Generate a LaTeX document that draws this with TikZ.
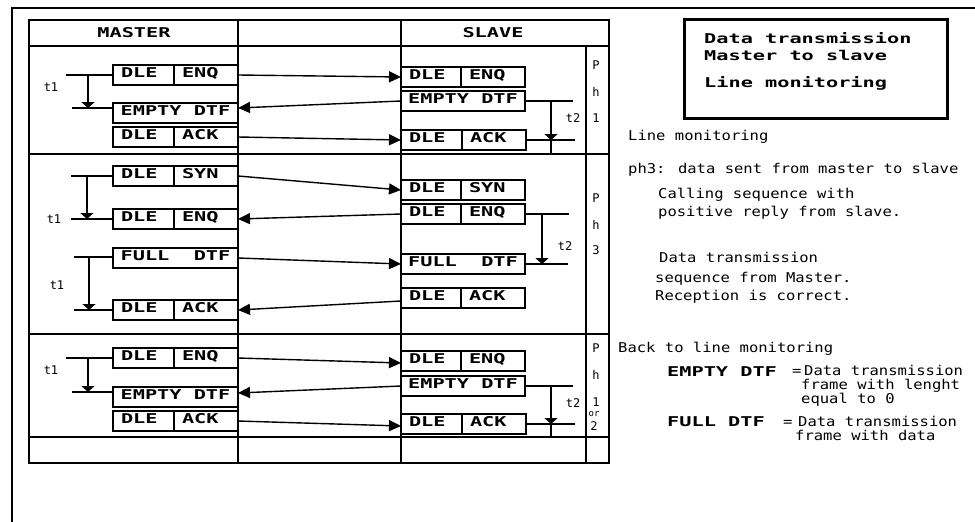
\documentclass[tikz,border=0pt]{standalone}
\usepackage{fontspec}
\usepackage{tikz}
\usetikzlibrary{arrows.meta,positioning}

\newfontfamily\cellfnt[FakeStretch=1.5]{DejaVu Sans Mono}
\newfontfamily\notefnt[FakeStretch=1.15]{DejaVu Sans Mono}
\newfontfamily\tickfnt{DejaVu Sans Mono}
\newcommand{\cellfont}{\cellfnt\bfseries\fontsize{13.5pt}{14pt}\selectfont}
\newcommand{\notefont}{\notefnt\fontsize{13.5pt}{14pt}\selectfont}
\newcommand{\tickfont}{\tickfnt\fontsize{12pt}{12pt}\selectfont}
\newcommand{\orfont}{\tickfnt\fontsize{9pt}{9pt}\selectfont}

\tikzset{
  grid line/.style={line width=1.6pt},
  cell/.style={draw, line width=1.4pt, outer sep=0pt, font=\cellfont,
    inner xsep=8pt, inner ysep=2pt, text height=10.5pt, text depth=5.5pt,
    minimum height=20pt, anchor=north west},
  lcell/.style={cell, text width=45pt, align=left},
  rcell/.style={cell, text width=48pt, align=left},
  wcell/.style={cell, inner xsep=0pt, minimum width=125pt},
  msg/.style={line width=1.4pt, -{Triangle[length=12pt,width=11pt]}},
  tmr/.style={line width=1.4pt, -{Triangle[length=6pt,width=13pt]}},
  tline/.style={line width=1.4pt},
  note/.style={font=\notefont, anchor=west, inner sep=0pt, text height=10pt, text depth=0pt},
  bnote/.style={note, font=\cellfont},
  tick/.style={font=\tickfont, inner sep=0pt},
}

\begin{document}
\begin{tikzpicture}[x=1pt,y=-1pt]
  \useasboundingbox (0,0) rectangle (975,522);
  %frame and table
  \draw[line width=1.5pt] (12,540) -- (12,8) -- (990,8);
  \draw[grid line] (29,20) rectangle (609,463);
  \draw[grid line] (29,46) -- (609,46);
  \draw[grid line] (29,154) -- (609,154);
  \draw[grid line] (29,334) -- (609,334);
  \draw[grid line] (29,437) -- (609,437);
  \draw[grid line] (238,20) -- (238,463);
  \draw[grid line] (401,20) -- (401,463);
  \draw[grid line] (586,46) -- (586,463);
  \node[font=\cellfont] (mhead) at (134,33) {MASTER};
  \node[font=\cellfont] (shead) at (493,33) {SLAVE};

  %phase 1
  \node[lcell] (m1aL) at (113,65) {DLE};
  \node[rcell, right=0pt of m1aL] (m1aR) {ENQ};
  \node[wcell] (m1b) at (113,103) {EMPTY DTF};
  \node[lcell] (m1cL) at (113,127) {DLE};
  \node[rcell, right=0pt of m1cL] (m1cR) {ACK};
  \node[lcell, text width=44pt] (s1aL) at (401,67) {DLE};
  \node[rcell, right=0pt of s1aL] (s1aR) {ENQ};
  \node[wcell, minimum width=124pt] (s1b) at (401,91) {EMPTY DTF};
  \node[lcell] (s1cL) at (401,130) {DLE};
  \node[rcell, right=0pt of s1cL] (s1cR) {ACK};
  \draw[msg] (m1aR.east) -- (s1aL.west);
  \draw[msg] (s1b.west) -- ([yshift=5pt]m1b.east);
  \draw[msg] (m1cR.east) -- (s1cL.west);
  \coordinate (a1) at (66,75);
  \coordinate (b1) at (72,108);
  \coordinate (v1) at (88,75);
  \coordinate (w1) at (88,108);
  \draw[tline] (a1) -- (m1aL.west);
  \draw[tline] (b1) -- ([yshift=5pt]m1b.west);
  \draw[tmr] (v1) -- (w1);
  \node[tick] (t1a) at (51,87) {t1};
  \coordinate (c1) at (573,101);
  \coordinate (d1) at (575,140);
  \coordinate (x1) at (551,101);
  \coordinate (y1) at (551,140);
  \coordinate (z1) at (551,154);
  \draw[tline] (s1b.east) -- (c1);
  \draw[tline] (s1cR.east) -- (d1);
  \draw[tmr] (x1) -- (y1);
  \draw[tline] (y1) -- (z1);
  \node[tick] (t2a) at (573,118) {t2};
  \node[tick] (p1a) at (596,65) {P};
  \node[tick] (p1b) at (596,92) {h};
  \node[tick] (p1c) at (596,118) {1};

  %phase 3
  \node[lcell] (m2aL) at (113,166) {DLE};
  \node[rcell, right=0pt of m2aL] (m2aR) {SYN};
  \node[lcell] (m2bL) at (113,209) {DLE};
  \node[rcell, right=0pt of m2bL] (m2bR) {ENQ};
  \node[wcell] (m2c) at (113,248) {FULL\ \ DTF};
  \node[lcell] (m2dL) at (113,300) {DLE};
  \node[rcell, right=0pt of m2dL] (m2dR) {ACK};
  \node[lcell, text width=44pt] (s2aL) at (401,180) {DLE};
  \node[rcell, right=0pt of s2aL] (s2aR) {SYN};
  \node[lcell, text width=44pt] (s2bL) at (401,204) {DLE};
  \node[rcell, right=0pt of s2bL] (s2bR) {ENQ};
  \node[wcell, minimum width=124pt] (s2c) at (401,254) {FULL\ \ DTF};
  \node[lcell, text width=44pt] (s2dL) at (401,288) {DLE};
  \node[rcell, right=0pt of s2dL] (s2dR) {ACK};
  \draw[msg] (m2aR.east) -- (s2aL.west);
  \draw[msg] (s2bL.west) -- (m2bR.east);
  \draw[msg] (m2c.east) -- (s2c.west);
  \draw[msg] ([yshift=-3pt]s2dL.west) -- (m2dR.east);
  \coordinate (a2) at (71,176);
  \coordinate (b2) at (71,219);
  \coordinate (v2) at (87,176);
  \coordinate (w2) at (87,219);
  \draw[tline] (a2) -- (m2aL.west);
  \draw[tline] (b2) -- (m2bL.west);
  \draw[tmr] (v2) -- (w2);
  \node[tick] (t1b) at (54,219) {t1};
  \coordinate (a3) at (74,257);
  \coordinate (b3) at (74,310);
  \coordinate (v3) at (89,257);
  \coordinate (w3) at (89,310);
  \draw[tline] (a3) -- ([yshift=1pt]m2c.west);
  \draw[tline] (b3) -- (m2dL.west);
  \draw[tmr] (v3) -- (w3);
  \node[tick] (t1c) at (57,285) {t1};
  \coordinate (c2) at (569,214);
  \coordinate (d2) at (568,264);
  \coordinate (x2) at (542,214);
  \coordinate (y2) at (542,264);
  \draw[tline] (s2bR.east) -- (c2);
  \draw[tline] (s2c.east) -- (d2);
  \draw[tmr] (x2) -- (y2);
  \node[tick] (t2b) at (565,246) {t2};
  \node[tick] (p2a) at (596,198) {P};
  \node[tick] (p2b) at (596,225) {h};
  \node[tick] (p2c) at (596,250) {3};

  %back to phase 1
  \node[lcell] (m3aL) at (113,348) {DLE};
  \node[rcell, right=0pt of m3aL] (m3aR) {ENQ};
  \node[wcell] (m3b) at (113,387) {EMPTY DTF};
  \node[lcell] (m3cL) at (113,411) {DLE};
  \node[rcell, right=0pt of m3cL] (m3cR) {ACK};
  \node[lcell, text width=44pt] (s3aL) at (401,351) {DLE};
  \node[rcell, right=0pt of s3aL] (s3aR) {ENQ};
  \node[wcell, minimum width=124pt] (s3b) at (401,376) {EMPTY DTF};
  \node[lcell] (s3cL) at (401,414) {DLE};
  \node[rcell, right=0pt of s3cL] (s3cR) {ACK};
  \draw[msg] (m3aR.east) -- ([yshift=-2pt]s3aL.west);
  \draw[msg] (s3b.west) -- ([yshift=4pt]m3b.east);
  \draw[msg] (m3cR.east) -- ([yshift=-2pt]s3cL.west);
  \coordinate (a4) at (66,358);
  \coordinate (b4) at (72,392);
  \coordinate (v4) at (88,358);
  \coordinate (w4) at (88,392);
  \draw[tline] (a4) -- (m3aL.west);
  \draw[tline] (b4) -- ([yshift=5pt]m3b.west);
  \draw[tmr] (v4) -- (w4);
  \node[tick] (t1d) at (51,370) {t1};
  \coordinate (c3) at (573,386);
  \coordinate (d3) at (575,424);
  \coordinate (x3) at (551,386);
  \coordinate (y3) at (551,424);
  \coordinate (z3) at (551,437);
  \draw[tline] (s3b.east) -- (c3);
  \draw[tline] (s3cR.east) -- (d3);
  \draw[tmr] (x3) -- (y3);
  \draw[tline] (y3) -- (z3);
  \node[tick] (t2c) at (573,403) {t2};
  \node[tick] (p3a) at (596,348) {P};
  \node[tick] (p3b) at (596,375) {h};
  \node[tick] (p3c) at (596,402) {1};
  \node[tick, font=\orfont] (p3d) at (594,414) {or};
  \node[tick] (p3e) at (594,426) {2};

  %notes
  \node[draw, line width=2.5pt, minimum width=263pt, minimum height=99pt,
        anchor=north west, inner sep=0pt] (titlebox) at (683,18) {};
  \node[bnote] (ttl1) at (704,38) {Data transmission};
  \node[bnote] (ttl2) at (704,55) {Master to slave};
  \node[bnote] (ttl3) at (704,82) {Line monitoring};
  \node[note] (n1) at (628,135) {Line monitoring};
  \node[note] (n2) at (628,168) {ph3: data sent from master to slave};
  \node[note] (n3) at (658,193) {Calling sequence with};
  \node[note] (n4) at (658,211) {positive reply from slave.};
  \node[note] (n5) at (659,257) {Data transmission};
  \node[note] (n6) at (655,277) {sequence from Master.};
  \node[note] (n7) at (655,295) {Reception is correct.};
  \node[note] (n8) at (618,347) {Back to line monitoring};
  \node[bnote] (k1) at (667,371) {EMPTY DTF};
  \node[note] (k1e) at (792,370) {=};
  \node[note] (k1a) at (804,370) {Data transmission};
  \node[note] (k1b) at (801,384) {frame with lenght};
  \node[note] (k1c) at (801,398) {equal to 0};
  \node[bnote] (k2) at (667,421) {FULL DTF};
  \node[note] (k2e) at (783,421) {=};
  \node[note] (k2a) at (798,421) {Data transmission};
  \node[note] (k2b) at (795,435) {frame with data};
\end{tikzpicture}
\end{document}
